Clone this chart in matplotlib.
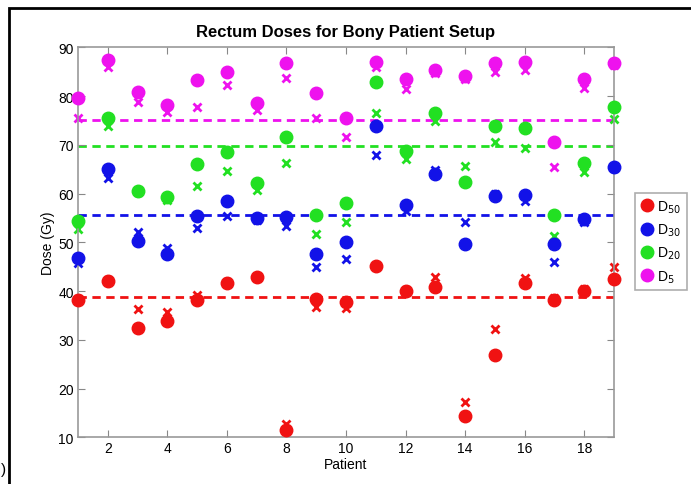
import matplotlib
matplotlib.use("Agg")
import matplotlib.pyplot as plt
from matplotlib.patches import Rectangle

plt.rcParams['font.family'] = ['Liberation Sans', 'DejaVu Sans']

patienter = list(range(1, 20))

# Doser med knogle-opsaetning (cirkler) og alternativ (krydser)
d50_cirkel = [38.2, 42.1, 32.4, 33.8, 38.2, 41.6, 42.8, 11.5, 38.3, 37.7, 45.1, 40.0, 40.8, 14.3, 26.9, 41.7, 38.2, 40.1, 42.5]
d50_kryds = [38.4, 42.3, 36.3, 35.8, 39.2, 41.8, 42.9, 12.7, 36.8, 36.5, 45.2, 40.2, 42.8, 17.2, 32.2, 42.6, 38.5, 40.4, 45.0]
d30_cirkel = [46.7, 65.0, 50.2, 47.7, 55.3, 58.4, 55.0, 55.1, 47.5, 50.0, 73.9, 57.6, 64.0, 49.6, 59.6, 59.8, 49.6, 54.8, 65.5]
d30_kryds = [45.7, 63.2, 52.2, 48.8, 52.9, 55.3, 54.6, 53.4, 45.0, 46.6, 67.9, 56.5, 64.8, 54.1, 60.0, 58.5, 46.0, 54.2, 65.3]
d20_cirkel = [54.4, 75.4, 60.5, 59.2, 66.1, 68.6, 62.1, 71.7, 55.6, 58.0, 82.8, 68.8, 76.5, 62.3, 73.9, 73.5, 55.7, 66.3, 77.8]
d20_kryds = [52.7, 73.8, 60.3, 58.6, 61.5, 64.7, 60.8, 66.2, 51.7, 54.2, 76.5, 67.1, 74.9, 65.7, 70.5, 69.4, 51.3, 64.5, 75.3]
d5_cirkel = [79.7, 87.3, 80.8, 78.2, 83.2, 85.0, 78.6, 86.8, 80.6, 75.4, 86.9, 83.5, 85.4, 84.2, 86.8, 87.0, 70.6, 83.6, 86.7]
d5_kryds = [75.6, 85.9, 78.7, 76.7, 77.7, 82.3, 77.1, 83.7, 75.6, 71.5, 85.9, 81.4, 84.7, 83.4, 85.0, 85.4, 65.4, 81.6, 86.4]

# Vandrette referenceniveauer
niveauer = [38.7, 55.5, 69.8, 75.0]

navne = ['D$_{50}$', 'D$_{30}$', 'D$_{20}$', 'D$_{5}$']
farver = ['#f01212', '#1212e8', '#22e022', '#ee12ee']

fig = plt.figure(figsize=(6.91, 4.85), dpi=100)
ax = fig.add_axes([0.1129, 0.0963, 0.7757, 0.8041])

serier = [(d50_cirkel, d50_kryds), (d30_cirkel, d30_kryds),
          (d20_cirkel, d20_kryds), (d5_cirkel, d5_kryds)]

for i in range(4):
    cirkel, kryds = serier[i]
    ax.axhline(niveauer[i], color=farver[i], linestyle=(0, (3, 2)), linewidth=2, zorder=1)
    ax.plot(patienter, kryds, linestyle='none', marker='x', markersize=6,
            markeredgewidth=2, color=farver[i], clip_on=False, zorder=2)
    ax.plot(patienter, cirkel, linestyle='none', marker='o', markersize=9,
            color=farver[i], label=navne[i], clip_on=False, zorder=3)

ax.set_xlim(1, 19)
ax.set_ylim(10, 90)
ax.set_xticks(range(2, 19, 2))
ax.set_yticks(range(10, 91, 10))
ax.tick_params(direction='in', length=5, top=True, right=True, color='#888888',
               labelsize=10, pad=3)
for side in ax.spines.values():
    side.set_color('#999999')
    side.set_linewidth(1.2)

ax.set_title('Rectum Doses for Bony Patient Setup', fontsize=12, fontweight='bold', pad=8)
ax.set_xlabel('Patient', fontsize=10, labelpad=1)
ax.set_ylabel('Dose (Gy)', fontsize=10, labelpad=2)

leg = ax.legend(loc='upper left', bbox_to_anchor=(1.039, 0.627), fontsize=10,
                fancybox=False, edgecolor='#999999', handletextpad=0.2,
                handlelength=1.0, borderpad=0.4, labelspacing=0.5, borderaxespad=0)
leg.get_frame().set_linewidth(1.2)

# ramme om figuren
fig.patches.append(Rectangle((9 / 691, -0.1), 1.2, 1.1 - 9 / 485,
                             transform=fig.transFigure, fill=False,
                             edgecolor='black', linewidth=2))
fig.text(0.001, 0.022, ')', fontsize=11)

fig.savefig('out.png', dpi=100)
